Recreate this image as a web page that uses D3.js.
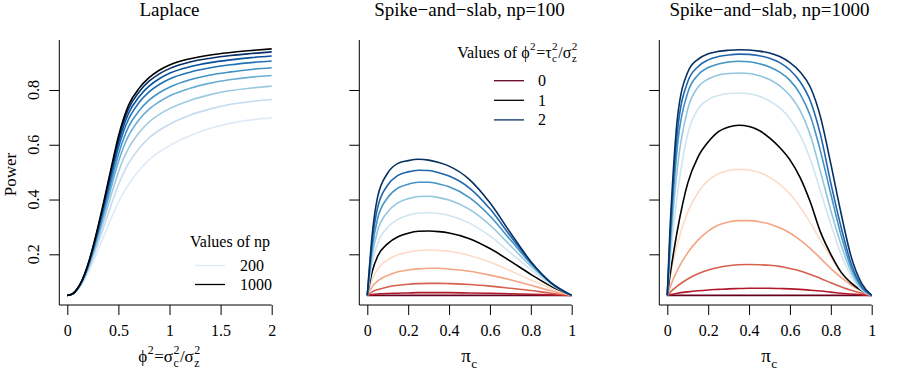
<!DOCTYPE html>
<html>
<head>
<meta charset="utf-8">
<script src="https://cdn.jsdelivr.net/npm/d3@7"></script>
<style>
  body { margin: 0; background: #fff; }
  text { font-family: "Liberation Serif", "Times New Roman", serif; fill: #000; }
</style>
</head>
<body>
<div id="chart"></div>
<script>
// ---- data ----
const phiGrid = [0, 0.05, 0.1, 0.15, 0.2, 0.25, 0.3, 0.35, 0.4, 0.45, 0.5, 0.55, 0.6, 0.7, 0.8, 0.9, 1.0, 1.2, 1.4, 1.6, 1.8, 2.0];
const npValues = [200, 300, 400, 500, 600, 700, 800, 900, 1000];
const laplacePower = [
  [.05, .054, .070, .095, .130, .170, .215, .260, .305, .350, .390, .425, .455, .505, .545, .574, .597, .633, .660, .679, .691, .698],
  [.05, .054, .071, .099, .138, .185, .238, .292, .348, .403, .454, .497, .532, .585, .625, .653, .675, .708, .731, .748, .758, .765],
  [.05, .055, .072, .102, .144, .195, .254, .315, .379, .442, .500, .549, .588, .643, .683, .711, .732, .762, .783, .798, .807, .814],
  [.05, .055, .073, .104, .149, .204, .267, .334, .403, .473, .538, .591, .633, .690, .730, .757, .778, .806, .825, .838, .847, .853],
  [.05, .055, .074, .106, .152, .210, .277, .347, .421, .495, .564, .621, .666, .723, .763, .790, .810, .837, .855, .866, .875, .881],
  [.05, .055, .074, .107, .155, .215, .285, .359, .437, .515, .588, .648, .694, .753, .793, .820, .840, .865, .881, .892, .900, .906],
  [.05, .055, .074, .109, .157, .219, .291, .368, .449, .529, .605, .667, .715, .774, .814, .841, .861, .885, .900, .910, .918, .924],
  [.05, .055, .075, .109, .159, .223, .296, .375, .458, .541, .619, .683, .732, .792, .832, .859, .878, .902, .916, .926, .933, .939],
  [.05, .055, .075, .110, .160, .225, .300, .380, .465, .550, .630, .695, .745, .805, .845, .872, .891, .914, .928, .937, .944, .950]
];

const phiValues = [0, 0.2, 0.4, 0.6, 0.8, 1.0, 1.2, 1.4, 1.6, 1.8, 2.0];

const piGrid100 = [0, 0.025, 0.05, 0.1, 0.15, 0.2, 0.25, 0.3, 0.35, 0.4, 0.5, 0.6, 0.7, 0.8, 0.9, 1];
const slab100Power = [
  [.05, .050, .050, .050, .050, .050, .050, .050, .050, .050, .050, .050, .050, .050, .050, .05],
  [.05, .053, .055, .057, .058, .059, .060, .060, .060, .060, .059, .058, .056, .054, .052, .05],
  [.05, .063, .071, .081, .087, .091, .093, .094, .094, .093, .090, .084, .076, .068, .058, .05],
  [.05, .083, .102, .123, .136, .143, .147, .149, .149, .146, .138, .124, .107, .087, .067, .05],
  [.05, .110, .146, .180, .198, .208, .214, .216, .214, .211, .196, .172, .140, .106, .075, .05],
  [.05, .140, .192, .239, .264, .277, .284, .285, .283, .278, .257, .221, .175, .127, .083, .05],
  [.05, .170, .239, .299, .328, .343, .351, .352, .349, .342, .314, .267, .206, .144, .089, .05],
  [.05, .200, .285, .355, .388, .403, .411, .412, .407, .398, .364, .307, .232, .157, .094, .05],
  [.05, .228, .329, .407, .442, .456, .463, .463, .457, .447, .407, .340, .253, .166, .096, .05],
  [.05, .253, .369, .453, .488, .501, .507, .506, .498, .486, .442, .366, .267, .171, .096, .05],
  [.05, .279, .408, .497, .532, .542, .547, .544, .535, .522, .473, .388, .279, .174, .095, .05]
];

const piGrid1000 = [0, 0.0125, 0.025, 0.05, 0.1, 0.15, 0.2, 0.25, 0.3, 0.35, 0.4, 0.45, 0.5, 0.55, 0.6, 0.65, 0.7, 0.75, 0.8, 0.85, 0.9, 0.95, 1];
const slab1000Power = [
  [.05, .050, .050, .050, .050, .050, .050, .050, .050, .050, .050, .050, .050, .050, .050, .050, .050, .050, .050, .050, .050, .050, .05],
  [.05, .052, .054, .058, .063, .067, .070, .072, .074, .075, .076, .076, .076, .075, .074, .072, .069, .066, .062, .058, .055, .052, .05],
  [.05, .060, .069, .085, .110, .129, .143, .152, .158, .162, .163, .162, .160, .156, .148, .139, .126, .112, .096, .082, .069, .058, .05],
  [.05, .077, .102, .143, .206, .252, .285, .307, .318, .323, .323, .319, .311, .297, .278, .252, .221, .185, .148, .116, .088, .066, .05],
  [.05, .110, .160, .240, .355, .425, .470, .494, .506, .510, .508, .499, .482, .455, .420, .372, .315, .250, .190, .135, .097, .069, .05],
  [.05, .120, .180, .290, .460, .555, .610, .648, .665, .671, .667, .652, .625, .590, .545, .480, .390, .280, .200, .135, .095, .068, .05],
  [.05, .160, .260, .420, .640, .730, .765, .780, .787, .789, .786, .777, .760, .735, .695, .635, .545, .430, .310, .200, .120, .070, .05],
  [.05, .190, .320, .520, .730, .810, .840, .855, .860, .862, .860, .852, .838, .815, .780, .725, .635, .500, .360, .235, .135, .075, .05],
  [.05, .220, .370, .600, .790, .855, .882, .895, .902, .905, .903, .896, .884, .865, .835, .785, .705, .575, .420, .270, .150, .080, .05],
  [.05, .250, .410, .650, .830, .885, .910, .922, .928, .931, .930, .925, .916, .900, .873, .830, .760, .635, .460, .300, .165, .085, .05],
  [.05, .280, .450, .700, .865, .912, .932, .941, .945, .947, .946, .942, .935, .922, .900, .866, .810, .700, .530, .350, .190, .095, .05]
];

const yTicks = [0.2, 0.4, 0.6, 0.8];
const lapXTicks = [0, 0.5, 1, 1.5, 2];
const piXTicks = [0, 0.2, 0.4, 0.6, 0.8, 1];

const blues = ["#DEEBF7", "#C6DBEF", "#9ECAE1", "#6BAED6", "#4292C6", "#2171B5", "#08519C", "#08306B", "#000000"];
const rdbu = ["#67001F", "#B2182B", "#D6604D", "#F4A582", "#FDDBC7", "#000000", "#D1E5F0", "#92C5DE", "#4393C3", "#2166AC", "#053061"];

// ---- layout ----
const W = 900, H = 375;
const FONT = "Liberation Serif, Times New Roman, serif";
const svg = d3.select("#chart").append("svg")
  .attr("width", W).attr("height", H);

const y = d3.scaleLinear().domain([0, 1]).range([309.1, 35.2]);
const plotTop = 40, plotBottom = 305;

// R plotmath-like label: super and subscripts stacked on top of each other
function mathText(parent, cx, by, tokens, size) {
  const g = parent.append("g").attr("font-family", FONT);
  let x = 0;
  tokens.forEach(tk => {
    if (tk.t !== undefined) {
      const t = g.append("text").attr("x", x).attr("y", 0)
        .style("font-size", size + "px").text(tk.t);
      x += t.node().getComputedTextLength();
    } else {
      let w = 0;
      if (tk.sup) {
        const t = g.append("text").attr("x", x + 0.5).attr("y", -size * 0.48)
          .style("font-size", (size * 0.7) + "px").text(tk.sup);
        w = Math.max(w, t.node().getComputedTextLength());
      }
      if (tk.sub) {
        const t = g.append("text").attr("x", x + 0.5).attr("y", size * 0.3)
          .style("font-size", (size * 0.7) + "px").text(tk.sub);
        w = Math.max(w, t.node().getComputedTextLength());
      }
      x += w + 1;
    }
  });
  g.attr("transform", `translate(${cx - x / 2},${by})`);
  return g;
}

function panel(left, xDomain, xTicks, title) {
  const x = d3.scaleLinear().domain(xDomain).range([left + 8, left + 212.4]);
  const g = svg.append("g");

  // L-shaped frame
  g.append("line").attr("x1", left).attr("x2", left)
    .attr("y1", plotTop).attr("y2", plotBottom).attr("stroke", "#000");
  g.append("line").attr("x1", left).attr("x2", x(xDomain[1]))
    .attr("y1", plotBottom).attr("y2", plotBottom).attr("stroke", "#000");

  // x axis
  const xa = g.append("g").attr("transform", `translate(0,${plotBottom})`)
    .call(d3.axisBottom(x).tickValues(xTicks).tickSize(10).tickPadding(10)
      .tickFormat(d => String(d)))
    .attr("font-family", FONT).attr("font-size", 16);
  xa.select(".domain").remove();
  xa.selectAll("line").attr("stroke", "#000");

  // y axis ticks
  const ya = g.append("g").attr("transform", `translate(${left},0)`)
    .call(d3.axisLeft(y).tickValues(yTicks).tickSize(10).tickFormat(""));
  ya.select(".domain").remove();
  ya.selectAll("line").attr("stroke", "#000");

  g.append("text").attr("x", (x(xDomain[0]) + x(xDomain[1])) / 2).attr("y", 16)
    .attr("text-anchor", "middle").style("font-size", "19px").text(title);

  return { g, x };
}

function drawCurves(p, grid, rows, colors) {
  const line = d3.line()
    .x((d, i) => p.x(grid[i]))
    .y(d => y(d))
    .curve(d3.curveMonotoneX);
  p.g.selectAll("path.curve")
    .data(rows)
    .join("path")
      .attr("class", "curve")
      .attr("fill", "none")
      .attr("stroke", (d, i) => colors[i])
      .attr("stroke-width", 1.6)
      .attr("d", line);
}

// ---- panel 1: Laplace ----
const p1 = panel(59.3, [0, 2], lapXTicks, "Laplace");
drawCurves(p1, phiGrid, laplacePower, blues);

p1.g.selectAll("text.ylab")
  .data(yTicks)
  .join("text")
    .attr("class", "ylab")
    .attr("transform", d => `translate(39,${y(d)}) rotate(-90)`)
    .attr("text-anchor", "middle")
    .style("font-size", "16px")
    .text(d => String(d));

svg.append("text")
  .attr("transform", `translate(16,${(plotTop + plotBottom) / 2 + 2}) rotate(-90)`)
  .attr("text-anchor", "middle").style("font-size", "17px").text("Power");

mathText(svg, 169.5, 362, [{t: "ϕ"}, {sup: "2"}, {t: "=σ"}, {sup: "2", sub: "c"}, {t: "/σ"}, {sup: "2", sub: "z"}], 17);

// legend np
const lapLeg = [0, npValues.length - 1];
svg.append("text").attr("x", 230).attr("y", 246.5).attr("text-anchor", "middle")
  .style("font-size", "16px").text("Values of np");
svg.selectAll("line.lapleg").data(lapLeg).join("line")
  .attr("class", "lapleg")
  .attr("x1", 195).attr("x2", 225)
  .attr("y1", (d, i) => 265.5 + i * 19).attr("y2", (d, i) => 265.5 + i * 19)
  .attr("stroke", d => blues[d]).attr("stroke-width", 1.3);
svg.selectAll("text.lapleg").data(lapLeg).join("text")
  .attr("class", "lapleg")
  .attr("x", 240).attr("y", (d, i) => 271 + i * 19)
  .style("font-size", "16px").text(d => npValues[d]);

// ---- panel 2: spike-and-slab np=100 ----
const p2 = panel(359.3, [0, 1], piXTicks, "Spike\u2212and\u2212slab, np=100");
drawCurves(p2, piGrid100, slab100Power, rdbu);
mathText(svg, 469.5, 362, [{t: "π"}, {sub: "c"}], 19);

// legend phi
mathText(svg, 517.5, 57.5, [{t: "Values of ϕ"}, {sup: "2"}, {t: "=τ"}, {sup: "2", sub: "c"}, {t: "/σ"}, {sup: "2", sub: "z"}], 16);
const slabLeg = [0, 5, 10];
svg.selectAll("line.slableg").data(slabLeg).join("line")
  .attr("class", "slableg")
  .attr("x1", 494).attr("x2", 524)
  .attr("y1", (d, i) => 80.7 + i * 19.6).attr("y2", (d, i) => 80.7 + i * 19.6)
  .attr("stroke", d => rdbu[d]).attr("stroke-width", 1.3);
svg.selectAll("text.slableg").data(slabLeg).join("text")
  .attr("class", "slableg")
  .attr("x", 538).attr("y", (d, i) => 86.2 + i * 19.6)
  .style("font-size", "16px").text(d => phiValues[d]);

// ---- panel 3: spike-and-slab np=1000 ----
const p3 = panel(659.3, [0, 1], piXTicks, "Spike\u2212and\u2212slab, np=1000");
drawCurves(p3, piGrid1000, slab1000Power, rdbu);
mathText(svg, 769.5, 362, [{t: "π"}, {sub: "c"}], 19);
</script>
</body>
</html>
